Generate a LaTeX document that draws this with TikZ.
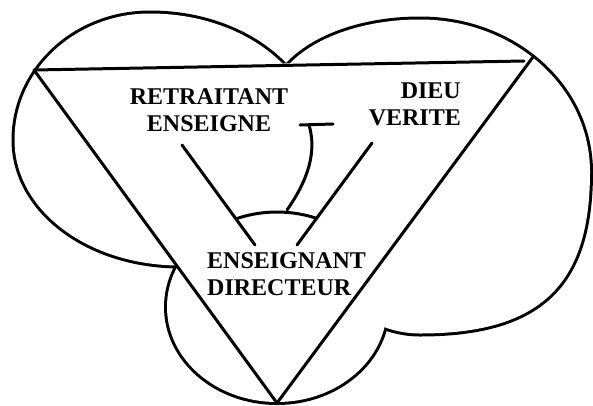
\documentclass[tikz,border=0pt]{standalone}
\usepackage{fontspec}
\setmainfont{Liberation Serif}
\usetikzlibrary{calc}

\begin{document}
\begin{tikzpicture}[
  x=1pt, y=-1pt,
  ln/.style={line width=3pt,line cap=round,line join=round},
  rim/.style={line width=6pt},
  lbl/.style={inner sep=0pt,font=\bfseries\fontsize{24}{27}\selectfont}
]
\useasboundingbox (0,0) rectangle (593,405);
\coordinate (tl) at (34,70);
\coordinate (tr) at (533,57);
\coordinate (bt) at (277,403);
\coordinate (topend) at (524,61);
\coordinate (lfa) at (182,145);
\coordinate (lfb) at (255,245);
\coordinate (rta) at (372,143);
\coordinate (rtb) at (297,245);
\coordinate (barl) at (300,125);
\coordinate (barr) at (333,124);
\coordinate (hook) at (309,125);
\coordinate (hookend) at (287,210);

\path[save path=\leftround] (14.5,140) .. controls (14.5,70) and (75,13.5) .. (150,13.5)
  .. controls (242,13.5) and (316,70) .. (316,140)
  .. controls (316,210) and (256,265.5) .. (180,265.5)
  .. controls (88,265.5) and (14.5,210) .. cycle;
\path[save path=\rightround] (270,108) .. controls (270,58) and (337,19.5) .. (420,19.5)
  .. controls (514,19.5) and (590,87) .. (590,172)
  .. controls (590,285) and (540,333.5) .. (420,333.5)
  .. controls (337,333.5) and (270,233) .. cycle;
\path[save path=\lowround] (277,307) ellipse [x radius=110, y radius=95];
\path[save path=\trigon] (tl) -- (tr) -- (bt) -- cycle;

% rounds drawn wide, then blanked so only the outline of the union stays
\draw[rim,use path=\leftround];
\draw[rim,use path=\rightround];
\draw[rim,use path=\lowround];
\fill[white,use path=\leftround];
\fill[white,use path=\rightround];
\fill[white,use path=\lowround];
\fill[white,use path=\trigon];

\draw[ln] (tl) -- (topend);
\draw[ln] (tl) -- (bt) -- (tr);
\draw[ln] (lfa) -- (lfb);
\draw[ln] (rta) -- (rtb);
\begin{scope}
  \clip (lfa) -- (lfb) -- (rtb) -- (rta) -- cycle;
  \draw[ln,use path=\lowround];
\end{scope}
\draw[ln] (barl) -- (barr);
\draw[ln] (hook) .. controls (317,152) and (308,180) .. (hookend);

\node[lbl,anchor=north,align=center] (retraitant) at (209,88) {RETRAITANT\\ENSEIGNE};
\node[lbl,anchor=north east,align=right] (dieu) at (461,83) {DIEU\\VERITE};
\node[lbl,anchor=north west,align=left] (enseignant) at (207,252) {ENSEIGNANT\\DIRECTEUR};
\end{tikzpicture}
\end{document}
